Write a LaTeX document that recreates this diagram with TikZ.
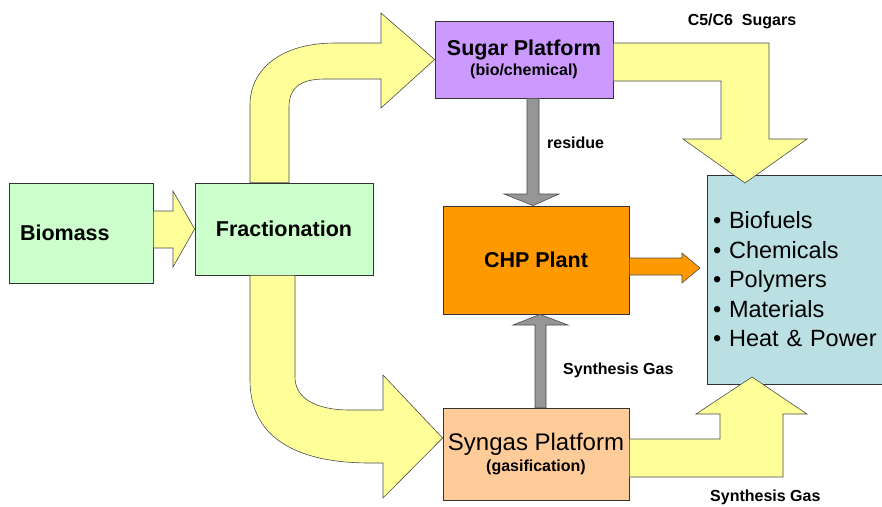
\documentclass[tikz,border=0pt]{standalone}
\usepackage{fontspec}
\setmainfont{Liberation Sans}
\usetikzlibrary{calc}
\definecolor{boxgreen}{HTML}{CCFFCC}
\definecolor{sugarpurple}{HTML}{CC99FF}
\definecolor{chporange}{HTML}{FF9900}
\definecolor{synpeach}{HTML}{FFCC99}
\definecolor{prodblue}{HTML}{BBE0E3}
\definecolor{arrowyellow}{HTML}{FFFF99}
\definecolor{arrowgray}{HTML}{969696}
\tikzset{
  % style for the process boxes
  stage/.style={
    draw=black!80,
    line width=0.8pt,
    inner sep=0pt,
    align=center,
    font=\bfseries\fontsize{21.5}{20}\selectfont
  },
  % style for the broad block arrows
  broad arrow/.style={
    draw=black!70,
    line width=0.6pt,
    fill=#1
  },
  broad arrow/.default=arrowyellow,
  % style for the texts beside the arrows
  flow label/.style={
    inner sep=0pt,
    font=\bfseries\fontsize{16}{19}\selectfont
  },
}

\begin{document}
\begin{tikzpicture}[x=1pt,y=-1pt]
            \useasboundingbox (0,0) rectangle (882,506);
            \clip (0,0) rectangle (882,506);

            \node[stage,fill=boxgreen,minimum width=144pt,minimum height=100pt,text width=122pt,align=left] (Bio) at (81,233) {Biomass};
            \node[stage,fill=boxgreen,minimum width=178pt,minimum height=92pt] (Frac) at (284,229) {\raisebox{-2pt}{Fractionation}};
            \node[stage,fill=sugarpurple,minimum width=178pt,minimum height=77pt] (Sugar) at (524,59.5)
                {\raisebox{-2pt}{Sugar Platform}\\{\fontsize{16}{20}\selectfont \raisebox{-2pt}{(bio/chemical)}}};
            \node[stage,fill=chporange,minimum width=186pt,minimum height=108pt] (CHP) at (536,260) {CHP Plant};
            \node[stage,fill=synpeach,minimum width=186pt,minimum height=92pt,font=\fontsize{24}{21}\selectfont] (Syn) at (536,454)
                {\raisebox{-2pt}{Syngas Platform}\\{\bfseries\fontsize{16}{21}\selectfont \raisebox{-2pt}{(gasification)}}};
            \node[stage,fill=prodblue,minimum width=200pt,minimum height=209pt,text width=188pt,align=left,font=\fontsize{23.5}{29.5}\selectfont] (Prod) at (807,279.5)
                {• Biofuels\\• Chemicals\\• Polymers\\• Materials\\• Heat \& Power};

            \coordinate (CHPtip) at (700,268);
            \coordinate (SugarTip) at (745,183);
            \coordinate (GasTip) at (752,377);

            \path [broad arrow]
            (Bio.east |- 0,211) -- (173,211) -- (173,191) -- (Frac.west)
            -- (173,267) -- (173,248) -- (Bio.east |- 0,248) -- cycle;

            \path [broad arrow]
            (250,0 |- Frac.north) -- (250,105) .. controls (250,70) and (280,43) .. (335,43)
            -- (381,43) -- (381,13) -- (Sugar.west) -- (381,108) -- (381,79) -- (325,79)
            .. controls (300,79) and (289,88) .. (289,107) -- (289,0 |- Frac.north) -- cycle;

            \path [broad arrow]
            (250,0 |- Frac.south) -- (250,380) .. controls (250,440) and (300,463) .. (370,463)
            -- (383,463) -- (383,498) -- (Syn.west |- 0,438) -- (383,375) -- (383,410) -- (350,410)
            .. controls (315,410) and (295,398) .. (295,377) -- (295,0 |- Frac.south) -- cycle;

            \path [broad arrow]
            (Sugar.east |- 0,43) -- (769,43) -- (769,139) -- (807,139) -- (SugarTip)
            -- (683,139) -- (721,139) -- (721,81) -- (Sugar.east |- 0,81) -- cycle;

            \path [broad arrow]
            (Syn.east |- 0,477) -- (783,477) -- (783,414) -- (807,414) -- (GasTip)
            -- (696,414) -- (720,414) -- (720,439) -- (Syn.east |- 0,439) -- cycle;

            \path [broad arrow=arrowgray]
            (527,0 |- Sugar.south) -- (527,194) -- (504,194) -- (533,0 |- CHP.north)
            -- (559,194) -- (539,194) -- (539,0 |- Sugar.south) -- cycle;

            \path [broad arrow=arrowgray]
            (535,0 |- Syn.north) -- (535,325) -- (513,325) -- (540,0 |- CHP.south)
            -- (568,325) -- (546,325) -- (546,0 |- Syn.north) -- cycle;

            \path [broad arrow=chporange]
            (CHP.east |- 0,258) -- (682,258) -- (682,253) -- (CHPtip)
            -- (682,283) -- (682,275) -- (CHP.east |- 0,275) -- cycle;

            \node[flow label,anchor=base] (SugarLbl) at (742,25) {C5/C6\ \ Sugars};
            \node[flow label,anchor=base west] (ResLbl) at (547,148) {residue};
            \node[flow label,anchor=base west] (GasLbl) at (563,374) {Synthesis Gas};
            \node[flow label,anchor=base west] (GasLblB) at (710,501) {Synthesis Gas};
        \end{tikzpicture}
\end{document}
